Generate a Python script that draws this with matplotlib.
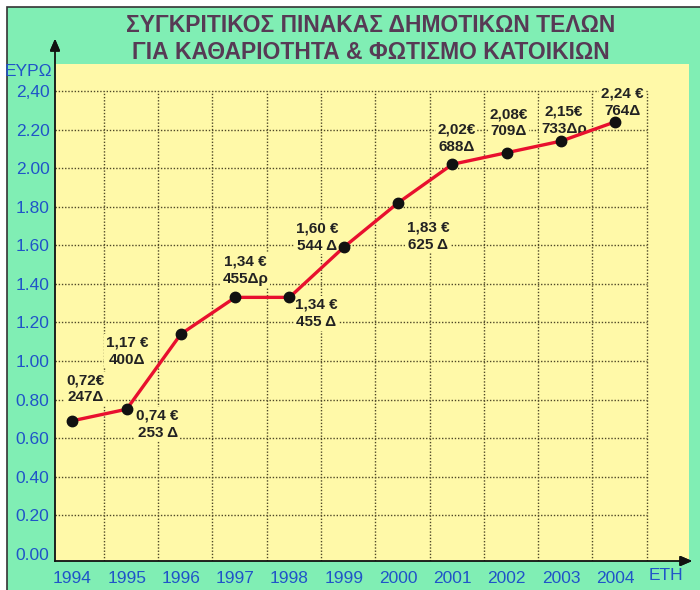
import matplotlib.pyplot as plt
from matplotlib.patches import Rectangle
from matplotlib.lines import Line2D

# data
years = [1994, 1995, 1996, 1997, 1998, 1999, 2000, 2001, 2002, 2003, 2004]
euros = [0.69, 0.75, 1.14, 1.33, 1.33, 1.59, 1.82, 2.02, 2.08, 2.14, 2.24]
euro_labels = ['0,72€', '0,74 €', '1,17 €', '1,34 €', '1,34 €', '1,60 €',
               '1,83 €', '2,02€', '2,08€', '2,15€', '2,24 €']
drachma_labels = ['247Δ', '253 Δ', '400Δ', '455Δρ', '455 Δ', '544 Δ',
                  '625 Δ', '688Δ', '709Δ', '733Δρ', '764Δ']
y_ticks = [0.0, 0.2, 0.4, 0.6, 0.8, 1.0, 1.2, 1.4, 1.6, 1.8, 2.0, 2.2, 2.4]
y_ticklabels = ['0.00', '0.20', '0.40', '0.60', '0.80', '1.00', '1.20',
                '1.40', '1.60', '1.80', '2.00', '2.20', '2,40']
title = 'ΣΥΓΚΡΙΤΙΚΟΣ ΠΙΝΑΚΑΣ ΔΗΜΟΤΙΚΩΝ ΤΕΛΩΝ\nΓΙΑ ΚΑΘΑΡΙΟΤΗΤΑ & ΦΩΤΙΣΜΟ ΚΑΤΟΙΚΙΩΝ'

# label offsets from each point, in pixels
label_dx = [13, 31, -54, 10, 27, -27, 30, 4, 2, 3, 7]
label_dy = [32, -15, -17, 27, -16, 10, -33, 26, 30, 21, 20]

GREEN = '#80eeb4'
YELLOW = '#fff9a8'
BLUE = '#2054c8'
TEXT = '#222222'

plt.rcParams['font.family'] = ['Liberation Sans', 'DejaVu Sans']

fig = plt.figure(figsize=(7, 5.9), dpi=100, facecolor='white')
W, H = 700, 590

# green panel with a dark frame at top/left
fig.patches.append(Rectangle((7 / W, -0.01), 1, 1.01 - 7 / H, transform=fig.transFigure,
                             facecolor=GREEN, edgecolor='#333333', linewidth=1.2, zorder=-5))

ax = fig.add_axes([55 / W, 1 - 561 / H, (689 - 55) / W, (561 - 64) / H])
ax.set_facecolor(YELLOW)
ax.set_xlim(1993.68, 2005.36)
ax.set_ylim(-0.037, 2.54)
for s in ax.spines.values():
    s.set_visible(False)

# dotted grid, bounded like the original
grid_x = [y + 0.58 for y in years]
ax.hlines(y_ticks[1:], 1993.68, grid_x[-1], colors='#4f4828', linestyles=(0, (1, 1.3)), linewidth=1.0, zorder=1)
ax.vlines(grid_x, -0.037, 2.4, colors='#4f4828', linestyles=(0, (1, 1.3)), linewidth=1.0, zorder=1)

ax.plot(years, euros, color='#e8102e', linewidth=2.4, marker='o', markersize=7.5,
        markerfacecolor='#111111', markeredgecolor='#111111', zorder=3)

for i in range(len(years)):
    ax.annotate(euro_labels[i] + '\n' + drachma_labels[i], (years[i], euros[i]),
                xytext=(label_dx[i], label_dy[i]), textcoords='offset pixels',
                ha='center', va='center', fontsize=11, fontweight='bold', color=TEXT,
                linespacing=1.3, zorder=2,
                bbox=dict(boxstyle='square,pad=0.1', facecolor=YELLOW, edgecolor='none'))

ax.set_xticks(years)
ax.set_xticklabels([str(y) for y in years])
ax.set_yticks(y_ticks)
ax.set_yticklabels(y_ticklabels)
ax.tick_params(length=0, labelsize=12.5, labelcolor=BLUE)
ax.tick_params(axis='x', pad=7)
ax.tick_params(axis='y', pad=4)

# axes with arrows
fig.add_artist(Line2D([55 / W, 55 / W], [1 - 561 / H, 1 - 45 / H], transform=fig.transFigure,
                      color='#111111', linewidth=1.3))
fig.add_artist(Line2D([55 / W, 686 / W], [1 - 561 / H, 1 - 561 / H], transform=fig.transFigure,
                      color='#111111', linewidth=1.3))
fig.add_artist(plt.annotate('', xy=(55 / W, 1 - 36 / H), xytext=(55 / W, 1 - 48 / H),
                            xycoords='figure fraction',
                            arrowprops=dict(arrowstyle='-|>,head_length=0.7,head_width=0.3',
                                            color='#111111', lw=1.3)))
fig.add_artist(plt.annotate('', xy=(695 / W, 1 - 561 / H), xytext=(683 / W, 1 - 561 / H),
                            xycoords='figure fraction',
                            arrowprops=dict(arrowstyle='-|>,head_length=0.7,head_width=0.3',
                                            color='#111111', lw=1.3)))

fig.text(28 / W, 1 - 71 / H, 'ΕΥΡΩ', ha='center', va='center', fontsize=12.5, color=BLUE)
fig.text(666 / W, 1 - 575 / H, 'ΕΤΗ', ha='center', va='center', fontsize=12.5, color=BLUE)

fig.text(371 / W, 1 - 39 / H, title, ha='center', va='center', fontsize=16.5, fontweight='bold',
         color='#573a55', linespacing=1.25)

fig.savefig('out.png', dpi=100, facecolor=fig.get_facecolor())
